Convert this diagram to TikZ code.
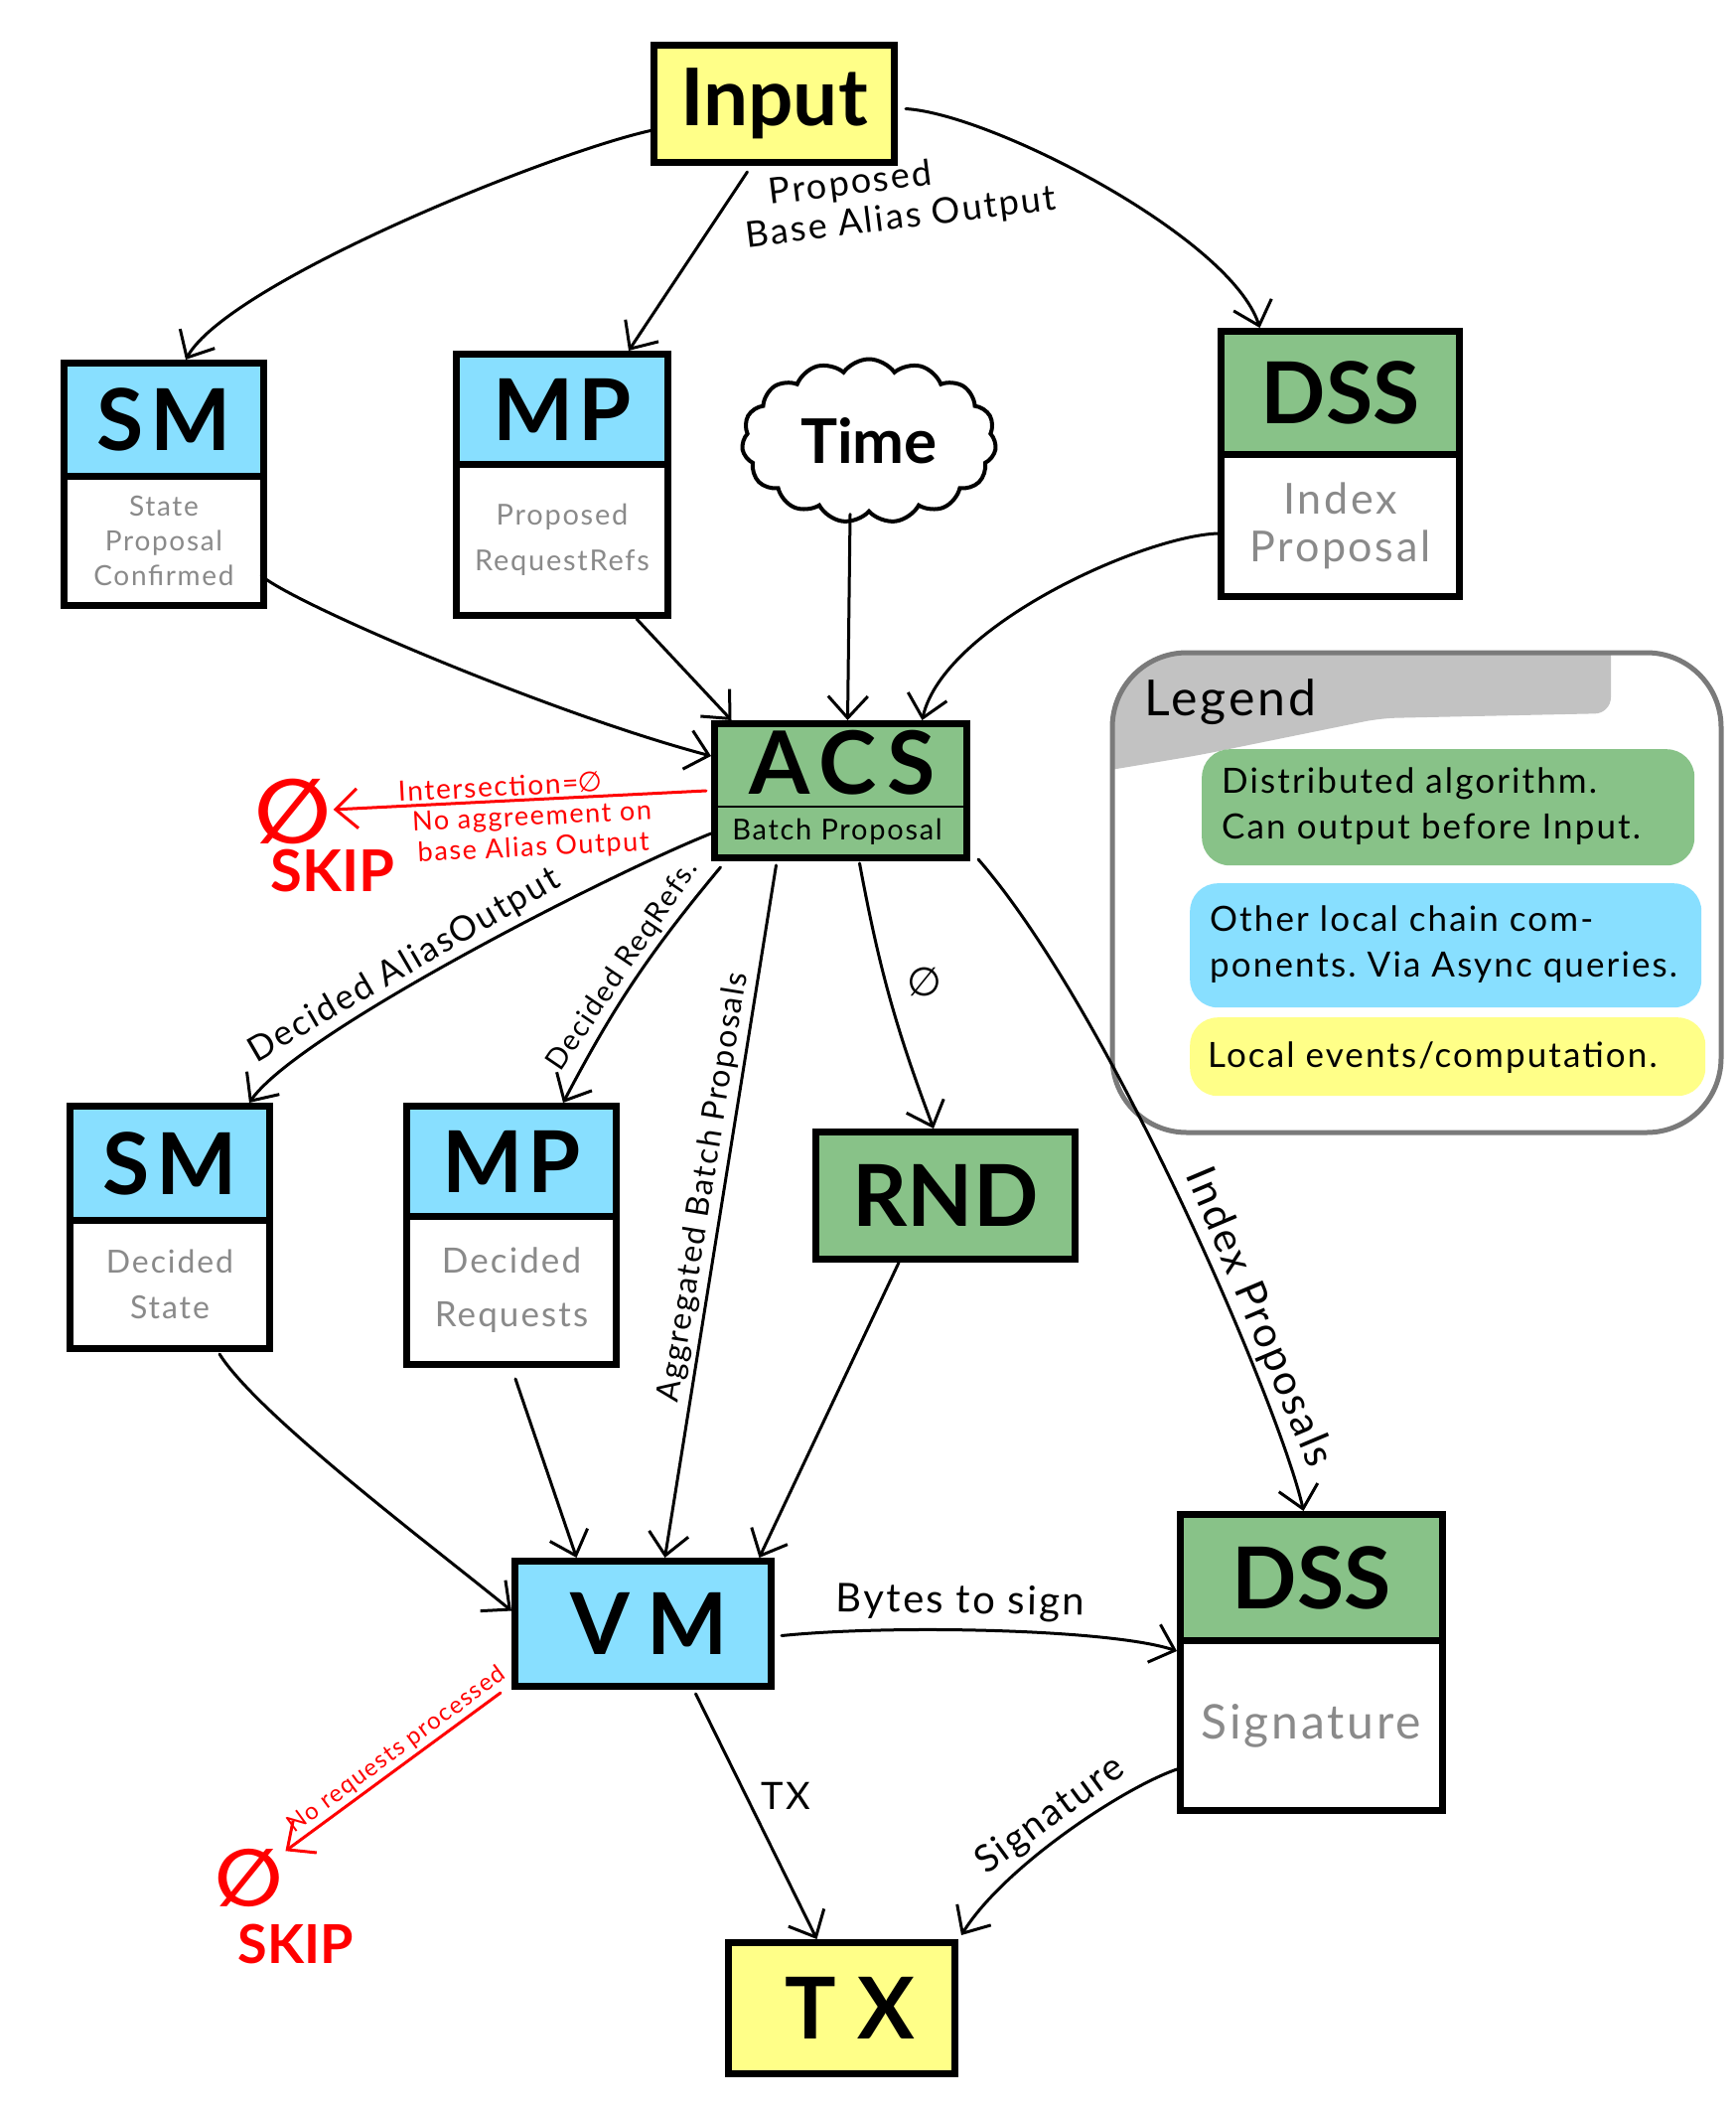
\documentclass[tikz,border=0pt]{standalone}
\usepackage{fontspec}
\setmainfont{Lato}[LetterSpace=6]
\newfontfamily\titlef{Lato}
\newfontfamily\symf{DejaVu Sans}
\usetikzlibrary{arrows.meta,shapes.symbols}
\definecolor{cblue}{HTML}{88DFFF}
\definecolor{cgreen}{HTML}{88C288}
\definecolor{cyellow}{HTML}{FFFF88}
\definecolor{lgray}{HTML}{C2C2C2}
\definecolor{bordergray}{HTML}{7A7A7A}
\definecolor{txtgray}{HTML}{8A8A8A}
\definecolor{cred}{HTML}{FF0000}
\newcommand\myfs[2]{\fontsize{#1pt}{#2pt}\selectfont}
\newcommand\eset{{\symf ∅}}
\frenchspacing
\begin{document}
\begin{tikzpicture}[x=1pt,y=-1pt,
  boxhead/.style={draw, line width=7pt, anchor=north west, inner sep=0pt, font=\titlef\bfseries\myfs{86}{90}},
  boxbody/.style={draw, line width=7pt, anchor=north west, inner sep=0pt, fill=white, text=txtgray, align=center},
  conn/.style={line width=3pt, line cap=round, -{Straight Barb[length=22pt,width=40pt]}},
  redconn/.style={conn, draw=cred},
  lbl/.style={inner sep=0pt, font=\myfs{32}{38}},
  redlbl/.style={lbl, text=cred},
  legitem/.style={rounded corners=28pt, anchor=north west, inner sep=0pt},
  legtext/.style={font=\myfs{35}{46}, align=left, anchor=west, inner sep=0pt}
]
\useasboundingbox (0,0) rectangle (1748,2126);
\fill[white] (0,0) rectangle (1748,2126);

% ---------- legend ----------
\begin{scope}
\clip[rounded corners=75pt] (1120,657) rectangle (1733,1140);
\fill[lgray, rounded corners=16pt] (1100,640) -- (1622,640) -- (1622,718) -- (1390,723) -- (1208,760) -- (1100,778) -- cycle;
\end{scope}
\draw[line width=5pt, draw=bordergray, rounded corners=75pt] (1120,657) rectangle (1733,1140);
\node[font=\myfs{50}{50}, anchor=base west, inner sep=0pt] (legt) at (1152,720) {Legend};
\node[legitem, fill=cgreen, minimum width=496pt, minimum height=117pt] (lg1) at (1210,754) {};
\node[legtext] (lg1t) at (1230,812) {Distributed algorithm.\\Can output before Input.};
\node[legitem, fill=cblue, minimum width=515pt, minimum height=125pt] (lg2) at (1198,889) {};
\node[legtext] (lg2t) at (1218,951) {Other local chain com-\\ponents. Via Async queries.};
\node[legitem, fill=cyellow, minimum width=519pt, minimum height=79pt] (lg3) at (1198,1024) {};
\node[legtext] (lg3t) at (1216,1065) {Local events/computation.};

% ---------- boxes ----------
\node[boxhead, fill=cyellow, minimum width=242pt, minimum height=118pt, font=\titlef\bfseries\myfs{80}{84}] (input) at (655,42) {Input};

\node[boxbody, minimum width=201pt, minimum height=130pt, font=\myfs{28}{35}] (sm1b) at (61,476) {State\\Proposal\\Confirmed};
\node[boxhead, fill=cblue, minimum width=201pt, minimum height=114pt, font=\titlef\bfseries\myfs{86}{90}\addfontfeature{LetterSpace=8}] (sm1h) at (61,362) {SM};

\node[boxbody, minimum width=213pt, minimum height=152pt, font=\myfs{29}{46}] (mp1b) at (456,464) {Proposed\\RequestRefs};
\node[boxhead, fill=cblue, minimum width=213pt, minimum height=111pt, font=\titlef\bfseries\myfs{86}{90}\addfontfeature{LetterSpace=6}] (mp1h) at (456,353) {MP};

\node[boxbody, minimum width=240pt, minimum height=143pt, font=\myfs{43}{48}] (dss1b) at (1226,454) {Index\\Proposal};
\node[boxhead, fill=cgreen, minimum width=240pt, minimum height=124pt] (dss1h) at (1226,330) {DSS};

\node[cloud, draw, line width=4pt, fill=white, cloud puffs=15, cloud puff arc=110, aspect=1.5,
      minimum width=256pt, minimum height=165pt, inner sep=0pt, font=\titlef\bfseries\myfs{62}{66}] (time) at (875,444) {Time};

\node[boxhead, fill=cgreen, minimum width=254pt, minimum height=135pt] (acs) at (716,725) {};
\node[font=\titlef\bfseries\myfs{88}{90}\addfontfeature{LetterSpace=12}, inner sep=0pt] (acst) at (848,768) {ACS};
\node[font=\myfs{29}{30}, inner sep=0pt] (acsb) at (843,837) {Batch Proposal};
\draw[line width=2.5pt] (716,812) -- (970,812);

\node[boxbody, minimum width=201pt, minimum height=129pt, font=\myfs{32}{46}] (sm2b) at (67,1225) {Decided\\State};
\node[boxhead, fill=cblue, minimum width=201pt, minimum height=115pt, font=\titlef\bfseries\myfs{86}{90}\addfontfeature{LetterSpace=8}] (sm2h) at (67,1110) {SM};

\node[boxbody, minimum width=211pt, minimum height=149pt, font=\myfs{35}{54}] (mp2b) at (406,1221) {Decided\\Requests};
\node[boxhead, fill=cblue, minimum width=211pt, minimum height=111pt, font=\titlef\bfseries\myfs{86}{90}\addfontfeature{LetterSpace=6}] (mp2h) at (406,1110) {MP};

\node[boxhead, fill=cgreen, minimum width=261pt, minimum height=128pt] (rnd) at (818,1136) {RND};

\node[boxhead, fill=cblue, minimum width=258pt, minimum height=126pt, font=\titlef\bfseries\myfs{86}{90}\addfontfeature{LetterSpace=20}] (vm) at (515,1568) {\hspace*{12pt}VM};

\node[boxbody, minimum width=264pt, minimum height=171pt, font=\myfs{48}{50}] (dss2b) at (1185,1648) {Signature};
\node[boxhead, fill=cgreen, minimum width=264pt, minimum height=127pt] (dss2h) at (1185,1521) {DSS};

\node[boxhead, fill=cyellow, minimum width=228pt, minimum height=132pt, font=\titlef\bfseries\myfs{86}{90}\addfontfeature{LetterSpace=25}] (tx) at (730,1952) {\hspace*{16pt}TX};

% ---------- skip markers ----------
\node[text=cred, font=\symf\bfseries\myfs{90}{90}, inner sep=2pt] (skipa) at (295,817) {∅};
\node[text=cred, font=\titlef\bfseries\myfs{58}{58}, inner sep=0pt] (skipat) at (335,877) {SKIP};
\node[text=cred, font=\symf\bfseries\myfs{80}{80}, inner sep=2pt] (skipb) at (251,1890) {∅};
\node[text=cred, font=\titlef\bfseries\myfs{54}{54}, inner sep=0pt] (skipbt) at (298,1957) {SKIP};

% ---------- connectors ----------
\draw[conn] ([yshift=-27pt]input.west) .. controls (550,155) and (230,285) .. ([xshift=22pt]sm1h.north);
\draw[conn] ([xshift=-27pt,yshift=-6pt]input.south) -- ([xshift=67pt]mp1h.north);
\draw[conn] ([xshift=8pt,yshift=-5pt]input.east) .. controls (1000,115) and (1240,240) .. ([xshift=-81pt]dss1h.north);
\draw[conn] ([xshift=-6pt,yshift=-35pt]sm1b.east) .. controls (300,610) and (560,720) .. ([yshift=35pt]acs.west);
\draw[conn] ([xshift=75pt]mp1b.south) -- ([xshift=-110pt]acs.north);
\draw[conn] ([xshift=-19pt]time.south) -- ([xshift=7pt]acs.north);
\draw[conn] ([yshift=-8pt]dss1b.west) .. controls (1150,540) and (950,630) .. ([xshift=82pt]acs.north);
\draw[redconn] ([xshift=-5pt]acs.west) -- (skipa)
  node[redlbl, font=\myfs{28}{28}, pos=0.55, sloped, above=3pt] (r1) {Intersection=\eset}
  node[redlbl, font=\myfs{27}{31}, pos=0.47, sloped, below=5pt, align=center] (r2) {No aggreement on\\base Alias Output};
\draw[conn] ([yshift=-43pt]acs.west) .. controls (613,880) and (300,1040) .. ([xshift=80pt]sm2h.north)
  node[lbl, font=\myfs{35}{35}, pos=0.58, sloped, above=3pt] (l2) {Decided AliasOutput};
\draw[conn] ([xshift=-121pt,yshift=-6pt]acs.south) to[bend right=6]
  node[lbl, font=\myfs{29}{29}, pos=0.48, sloped, above=3pt] (l3) {Decided ReqRefs.}
  ([xshift=52pt]mp2h.north);
\draw[conn] ([xshift=-65pt,yshift=-4pt]acs.south) --
  node[lbl, font=\myfs{32}{32}, pos=0.47, sloped, above=4pt] (l4) {Aggregated Batch Proposals}
  ([xshift=22pt]vm.north);
\draw[conn] ([xshift=19pt,yshift=-2pt]acs.south) to[bend right=5] ([xshift=-12pt]rnd.north);
\draw[conn] ([xshift=8pt,yshift=2pt]acs.south east) .. controls (1120,1020) and (1290,1420) .. ([xshift=-8pt]dss2h.north)
  node[lbl, font=\myfs{42}{42}, pos=0.66, sloped, above=3pt] (l6) {Index Proposals};
\draw[conn] ([xshift=50pt,yshift=-2pt]sm2b.south) .. controls (260,1425) and (440,1560) .. ([yshift=13pt]vm.west);
\draw[conn] ([xshift=4pt,yshift=-11pt]mp2b.south) -- ([xshift=-67pt]vm.north);
\draw[conn] ([xshift=-47pt]rnd.south) -- ([xshift=117pt]vm.north);
\draw[conn] ([xshift=7pt,yshift=-12pt]vm.east) .. controls (900,1635) and (1120,1640) .. ([yshift=-7pt]dss2h.south west)
  node[lbl, font=\myfs{40}{40}, pos=0.42, sloped, above=8pt] (l7) {Bytes to sign};
\draw[redconn] ([xshift=-11pt,yshift=-3pt]vm.south west) -- (skipb)
  node[redlbl, font=\myfs{24}{24}, pos=0.44, sloped, above=3pt] (r3) {No requests processed};
\draw[conn] ([xshift=53pt,yshift=-4pt]vm.south) -- ([xshift=-25pt]tx.north);
\draw[conn] ([yshift=-44pt]dss2b.west) .. controls (1130,1800) and (1010,1880) .. ([xshift=3pt,yshift=4pt]tx.north east)
  node[lbl, font=\myfs{38}{38}, pos=0.5, sloped, above=4pt] (l9) {Signature};

% ---------- free labels ----------
\node[lbl, font=\myfs{36}{40}, rotate=7, align=left] (l1) at (905,200) {\hspace*{28pt}Proposed\\Base Alias Output};
\node[lbl, font=\myfs{40}{40}] (l5) at (931,988) {\eset};
\node[lbl, font=\myfs{38}{38}] (l8) at (791,1808) {TX};
\end{tikzpicture}
\end{document}
